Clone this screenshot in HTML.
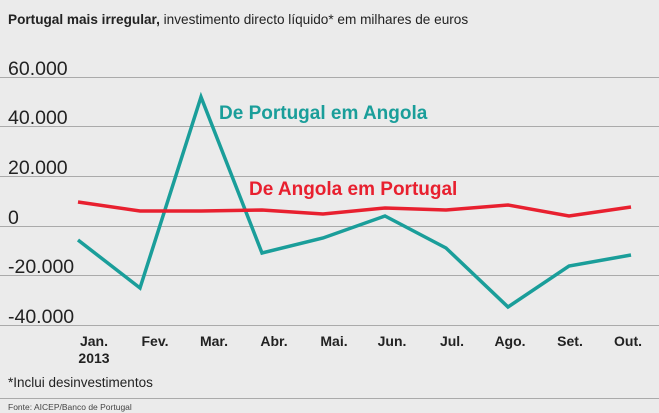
<!DOCTYPE html>
<html><head><meta charset="utf-8"><style>
body{margin:0;width:659px;height:413px;background:#ebebeb;overflow:hidden;font-family:"Liberation Sans",sans-serif;}
</style></head><body>
<svg width="659" height="413" xmlns="http://www.w3.org/2000/svg" style="position:absolute;left:0;top:0">
<rect width="659" height="413" fill="#ebebeb"/>
<text x="8" y="24" font-size="13.6" fill="#222"><tspan font-weight="bold">Portugal mais irregular,</tspan> investimento directo líquido* em milhares de euros</text>
<g stroke="#aaa" stroke-width="1">
<line x1="0" y1="77.5" x2="659" y2="77.5"/>
<line x1="0" y1="126.5" x2="659" y2="126.5"/>
<line x1="0" y1="176.5" x2="659" y2="176.5"/>
<line x1="0" y1="226.5" x2="659" y2="226.5"/>
<line x1="0" y1="275.5" x2="659" y2="275.5"/>
<line x1="0" y1="325.5" x2="659" y2="325.5"/>
<line x1="0" y1="398.5" x2="659" y2="398.5"/>
</g>
<g font-size="19.5" fill="#222">
<text x="8" y="75">60.000</text>
<text x="8" y="124">40.000</text>
<text x="8" y="174">20.000</text>
<text x="8" y="224">0</text>
<text x="8" y="273">-20.000</text>
<text x="8" y="323">-40.000</text>
</g>
<polyline fill="none" stroke="#1a9e9a" stroke-width="3.5" points="78,240 140,288 201,97 262,253 323,238 385,216 446,248 508,307 569,266 631,255"/>
<polyline fill="none" stroke="#e8202f" stroke-width="3.5" points="78,202 140,211 201,211 262,210 323,214 385,208 446,210 508,205 569,216 631,207"/>
<text x="219" y="119" font-size="19" font-weight="bold" fill="#1a9e9a">De Portugal em Angola</text>
<text x="249" y="195" font-size="19" font-weight="bold" fill="#e8202f">De Angola em Portugal</text>
<g font-size="14" font-weight="bold" fill="#222" text-anchor="middle">
<text x="94" y="346">Jan.</text>
<text x="155" y="346">Fev.</text>
<text x="214" y="346">Mar.</text>
<text x="274" y="346">Abr.</text>
<text x="334" y="346">Mai.</text>
<text x="392" y="346">Jun.</text>
<text x="452" y="346">Jul.</text>
<text x="510" y="346">Ago.</text>
<text x="570" y="346">Set.</text>
<text x="628" y="346">Out.</text>
<text x="94" y="363">2013</text>
</g>
<text x="8" y="387" font-size="13.5" fill="#222">*Inclui desinvestimentos</text>
<text x="8" y="410" font-size="8.5" fill="#444">Fonte: AICEP/Banco de Portugal</text>
</svg>
</body></html>
